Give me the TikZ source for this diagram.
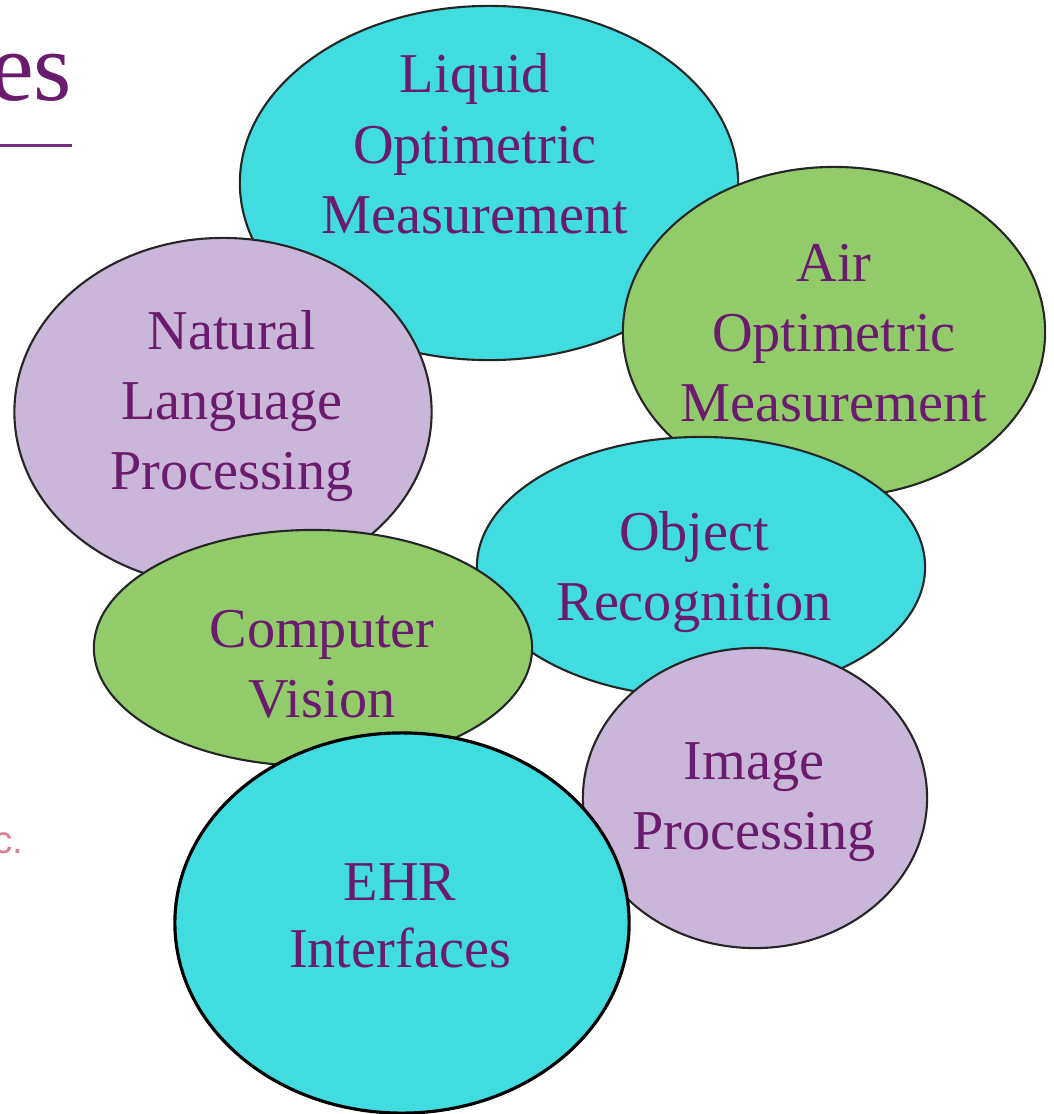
\documentclass[tikz,border=0pt]{standalone}
\usepackage{fontspec}
\setmainfont{Liberation Serif}
\newfontfamily\slidesans{Liberation Sans}
\usetikzlibrary{shapes.geometric}

\definecolor{bubblecyan}{RGB}{64,220,223}
\definecolor{bubblegreen}{RGB}{146,204,106}
\definecolor{bubblelilac}{RGB}{202,182,216}
\definecolor{labelpurple}{RGB}{106,27,110}
\definecolor{rulepurple}{RGB}{120,44,130}
\definecolor{notepink}{RGB}{218,128,150}

\begin{document}
\begin{tikzpicture}[x=0.01cm, y=-0.01cm,
    bubble/.style={ellipse, draw=black!85, line width=0.6pt, inner sep=0pt},
    bubbletext/.style={text=labelpurple, font=\fontsize{16}{20}\selectfont, align=center, inner sep=0pt}]
        \useasboundingbox (0,0) rectangle (1054,1114);
        \clip (0,0) rectangle (1054,1114);

        \node[anchor=base east, text=labelpurple, font=\fontsize{28}{30}\selectfont, inner sep=0pt] (titletail) at (73,100) {es};
        \coordinate (rulestart) at (0,145);
        \coordinate (ruleend) at (72,145);
        \draw[rulepurple, line width=0.85pt] (rulestart) -- (ruleend);

        \node[anchor=base east, text=notepink, font=\slidesans\fontsize{11}{13}\selectfont, inner sep=0pt] (notetail) at (24,853) {c.};

        \node[bubble, fill=bubblecyan, minimum width=4.98cm, minimum height=3.54cm] (liquid) at (489,183) {};
        \node[bubbletext] (liquidtext) at (475,144) {Liquid\\Optimetric\\Measurement};

        \node[bubble, fill=bubblelilac, minimum width=4.17cm, minimum height=3.48cm] (nlp) at (223,412) {};
        \node[bubbletext] (nlptext) at (232,406) {Natural\\Language\\Processing};

        \node[bubble, fill=bubblegreen, minimum width=4.22cm, minimum height=3.30cm] (air) at (834,332) {};
        \node[bubbletext] (airtext) at (834,333) {Air\\Optimetric\\Measurement};

        \node[bubble, fill=bubblecyan, minimum width=4.48cm, minimum height=2.60cm] (object) at (701,567) {};
        \node[bubbletext] (objecttext) at (694,572) {Object\\Recognition};

        \node[bubble, fill=bubblegreen, minimum width=4.38cm, minimum height=2.36cm] (vision) at (313,648) {};
        \node[bubbletext] (visiontext) at (322,664) {Computer\\Vision};

        \node[bubble, fill=bubblelilac, minimum width=3.44cm, minimum height=3.00cm] (image) at (755,798) {};
        \node[bubbletext] (imagetext) at (754,802) {Image\\Processing};

        \node[bubble, fill=bubblecyan, draw=black, line width=0.9pt, minimum width=4.54cm, minimum height=3.80cm] (ehr) at (402,923) {};
        \node[bubbletext, font=\fontsize{16}{19}\selectfont] (ehrtext) at (400,916) {EHR\\Interfaces};
      \end{tikzpicture}
\end{document}
